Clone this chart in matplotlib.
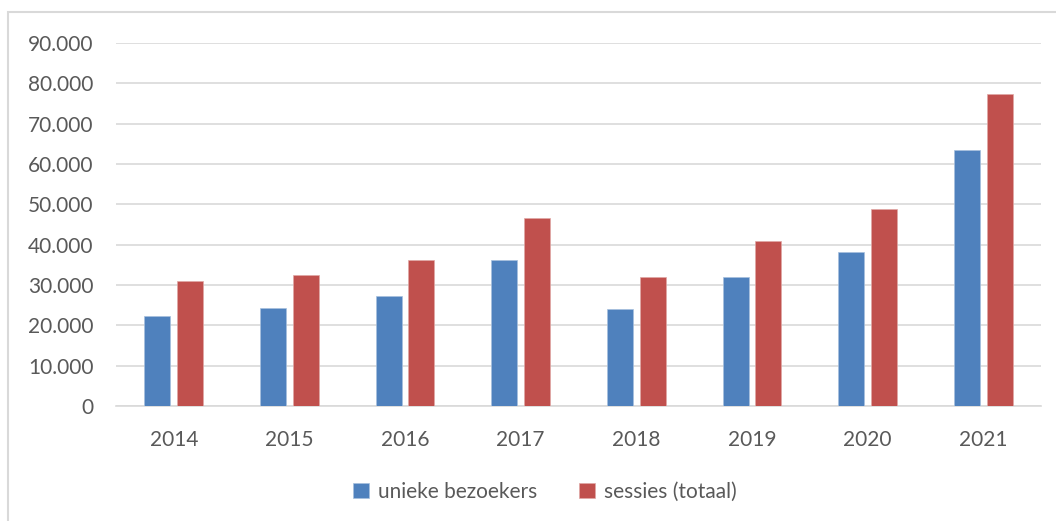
import numpy as np
import matplotlib
matplotlib.use("Agg")
import matplotlib.pyplot as plt
from matplotlib.patches import Rectangle
from matplotlib.ticker import FuncFormatter

plt.rcParams['font.family'] = ['Lato', 'DejaVu Sans']

years = ['2014', '2015', '2016', '2017', '2018', '2019', '2020', '2021']
unieke_bezoekers = [22400, 24300, 27200, 36200, 24100, 32000, 38100, 63500]
sessies_totaal = [30900, 32600, 36200, 46600, 32000, 40800, 48900, 77400]

blue = '#4F81BD'
red = '#C0504D'
grey_text = '#595959'
grid_col = '#D9D9D9'

fig = plt.figure(figsize=(10.56, 5.21), dpi=100)
ax = fig.add_axes([116/1056, 1 - 406/521, (1041 - 116)/1056, (406 - 43)/521])

# chart border (cut off at right/bottom like the screenshot)
fig.patches.append(Rectangle((8/1056, -0.1), 1.2, 1 - 12/521 + 0.1,
                             transform=fig.transFigure, fill=False,
                             edgecolor='#D9D9D9', linewidth=1.5))

x = np.arange(len(years))
w = 0.225
ax.bar(x - 0.142, unieke_bezoekers, w, color=blue, label='unieke bezoekers',
       edgecolor='#A7C0DE', linewidth=0.5, zorder=3)
ax.bar(x + 0.142, sessies_totaal, w, color=red, label='sessies (totaal)',
       edgecolor='#E0A8A6', linewidth=0.5, zorder=3)

ax.set_xlim(-0.5, len(years) - 0.5)
ax.set_ylim(0, 90000)
ax.set_yticks(np.arange(0, 90001, 10000))
ax.yaxis.set_major_formatter(FuncFormatter(lambda v, p: '0' if v == 0 else f'{int(v):,}'.replace(',', '.')))
ax.set_xticks(x)
ax.set_xticklabels(years)

ax.grid(axis='y', color=grid_col, linewidth=1.2, zorder=0)
ax.set_axisbelow(True)
for s in ['top', 'right', 'left']:
    ax.spines[s].set_visible(False)
ax.spines['bottom'].set_color(grid_col)
ax.spines['bottom'].set_linewidth(1.2)

ax.tick_params(axis='both', length=0, colors=grey_text, labelsize=15)
ax.tick_params(axis='y', pad=16)
ax.tick_params(axis='x', pad=17)

fig.legend(loc='center', bbox_to_anchor=(545/1056, 1 - 492/521), ncol=2,
           frameon=False, fontsize=15, labelcolor=grey_text,
           handlelength=0.75, handleheight=0.75, handletextpad=0.45, columnspacing=2.0)

fig.savefig('out.png', dpi=100)
